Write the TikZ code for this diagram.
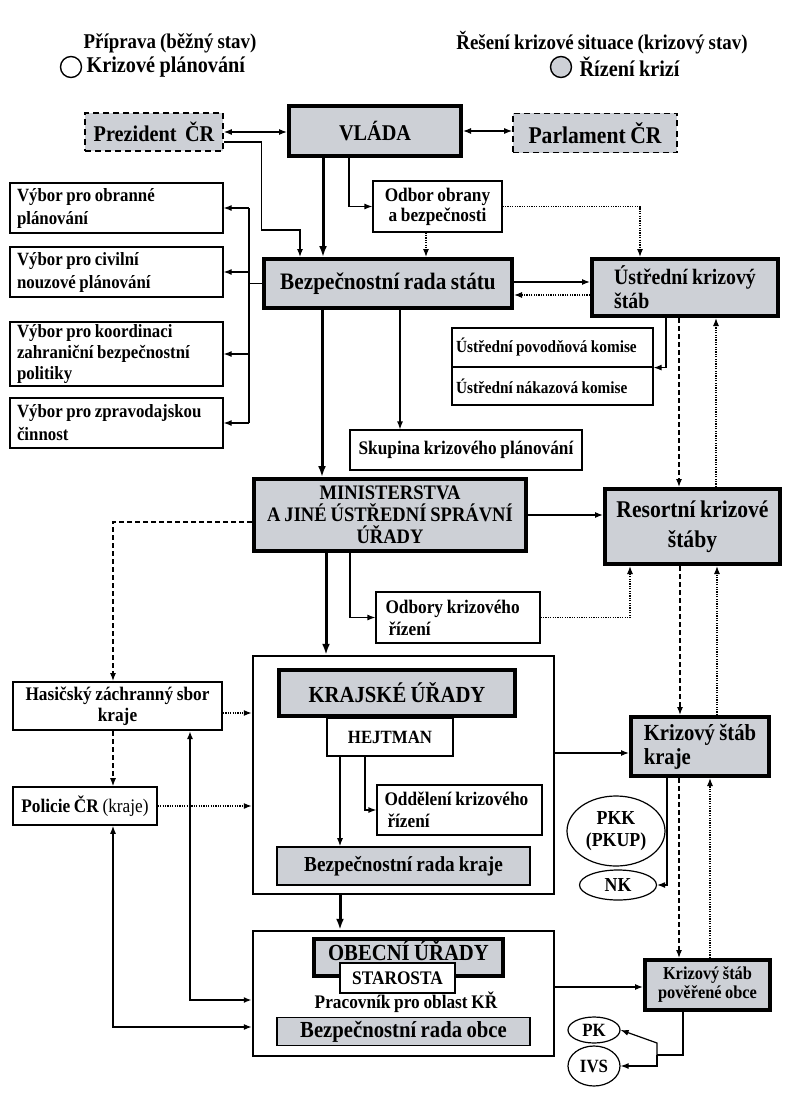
\documentclass[tikz,border=0pt]{standalone}
\usepackage{fontspec}
\setmainfont{Liberation Serif}[FakeStretch=0.9,WordSpace=0.85]
\usetikzlibrary{arrows.meta,shapes.geometric}
\definecolor{boxgray}{RGB}{205,208,214}
\newcommand{\fsz}[2]{\fontsize{#1}{#2}\selectfont\bfseries}

\begin{document}
\begin{tikzpicture}[x=1pt,y=-1pt,line width=1.2pt]
        \tikzset{box/.style = {shape=rectangle,draw,fill=white,inner sep=0pt,font=\fsz{19.8}{23}}}
        \tikzset{heavy/.style = {box,fill=boxgray,line width=4pt,font=\fsz{23}{25}}}
        \tikzset{dashbox/.style = {box,fill=boxgray,line width=1.6pt,dash pattern=on 6pt off 4pt,font=\fsz{22.5}{24}}}
        \tikzset{frame/.style = {shape=rectangle,draw,line width=2.5pt,inner sep=0pt}}
        \tikzset{bubble/.style = {shape=ellipse,draw,inner sep=0pt,font=\fsz{19.8}{22}}}
        \tikzset{legend/.style = {inner sep=0pt,font=\fsz{21}{23}}}
        \tikzset{edge/.style = {-{Latex[length=8pt,width=6pt]}}}
        \tikzset{mainedge/.style = {-{Latex[length=11pt,width=8pt]},line width=3pt}}
        \tikzset{twoway/.style = {{Latex[length=8pt,width=6pt]}-{Latex[length=8pt,width=6pt]}}}
        \tikzset{dotline/.style = {dash pattern=on 1.2pt off 1.2pt}}
        \tikzset{dashline/.style = {dash pattern=on 5pt off 3pt}}
        \useasboundingbox (0,0) rectangle (784,1097);

        % legend
        \node[legend] (prep) at (170,43) {Příprava (běžný stav)};
        \node[shape=circle,draw,fill=white,line width=1.4pt,minimum size=21pt] (legplan) at (71,67) {};
        \node[legend,anchor=west,font=\fsz{22.5}{24}] (plan) at (86,67) {Krizové plánování};
        \node[legend] (crisis) at (602,43) {Řešení krizové situace (krizový stav)};
        \node[shape=circle,draw,fill=boxgray,line width=1.4pt,minimum size=21pt] (legcris) at (561,67) {};
        \node[legend,anchor=west,font=\fsz{22.5}{24}] (rizeni) at (579,67) {Řízení krizí};

        % state level
        \node[dashbox,minimum width=138pt,minimum height=38pt] (prez) at (154,132) {Prezident\ \ ČR};
        \node[heavy,minimum width=172pt,minimum height=50pt,font=\fsz{22.5}{24}] (vlada) at (375,131) {VLÁDA};
        \node[dashbox,minimum width=164pt,minimum height=39pt,font=\fsz{24}{26}] (parl) at (595,133) {Parlament ČR};
        \node[box,minimum width=213pt,minimum height=50pt,text width=199pt,inner xsep=7pt,align=flush left,font=\fsz{18.7}{23}] (obranne) at (116.5,208) {Výbor pro obranné\\plánování};
        \node[box,minimum width=213pt,minimum height=50pt,text width=199pt,inner xsep=7pt,align=flush left,font=\fsz{18.7}{23}] (civilni) at (116.5,272) {Výbor pro civilní\\nouzové plánování};
        \node[box,minimum width=213pt,minimum height=64pt,text width=199pt,inner xsep=7pt,align=flush left,font=\fsz{18.7}{21}] (koord) at (116.5,354) {Výbor pro koordinaci\\zahraniční bezpečnostní\\politiky};
        \node[box,minimum width=213pt,minimum height=50pt,text width=199pt,inner xsep=7pt,align=flush left,font=\fsz{18.7}{23}] (zprav) at (116.5,423) {Výbor pro zpravodajskou\\činnost};
        \node[box,minimum width=129pt,minimum height=51pt,align=center,font=\fsz{19.2}{20}] (odbor) at (437.5,206.5) {Odbor obrany\\a bezpečnosti};
        \node[heavy,minimum width=248pt,minimum height=49pt,font=\fsz{23.6}{25}] (brs) at (388,283.5) {Bezpečnostní rada státu};
        \node[heavy,minimum width=186pt,minimum height=57pt,align=left,font=\fsz{22}{24}] (uks) at (685,287.5) {Ústřední krizový\\štáb};
        \node[box,minimum width=201pt,minimum height=39pt,text width=193pt,inner xsep=4pt,align=flush left,font=\fsz{17}{19}] (povod) at (552.5,347.5) {Ústřední povodňová komise};
        \node[box,minimum width=201pt,minimum height=38pt,text width=193pt,inner xsep=4pt,align=flush left,font=\fsz{17}{19}] (nakaz) at (552.5,386) {Ústřední nákazová komise};
        \node[box,minimum width=232pt,minimum height=40pt,font=\fsz{19.2}{21}] (skup) at (466,450) {Skupina krizového plánování};

        % ministries
        \node[heavy,minimum width=272pt,minimum height=72pt,align=center,font=\fsz{20.6}{22}] (min) at (390,515) {MINISTERSTVA\\A JINÉ ÚSTŘEDNÍ SPRÁVNÍ\\ÚŘADY};
        \node[heavy,minimum width=175pt,minimum height=75pt,align=center,font=\fsz{24}{30}] (rks) at (692.5,526.5) {Resortní krizové\\štáby};
        \node[box,minimum width=164pt,minimum height=51pt,text width=145pt,inner xsep=9.5pt,align=flush left,font=\fsz{19.2}{22}] (odbory) at (458,617.5) {Odbory krizového\\\hspace*{3pt}řízení};

        % regions
        \node[frame,minimum width=301pt,minimum height=238pt] (krajfr) at (403.5,775) {};
        \node[heavy,minimum width=236pt,minimum height=46pt,font=\fsz{23}{25}] (kru) at (397,693) {KRAJSKÉ ÚŘADY};
        \node[box,minimum width=126pt,minimum height=38pt,font=\fsz{18.7}{21}] (hejt) at (390,737) {HEJTMAN};
        \node[box,minimum width=165pt,minimum height=50pt,text width=150pt,inner xsep=7.5pt,align=flush left,font=\fsz{19.2}{22}] (odde) at (459.5,810) {Oddělení krizového\\\hspace*{3pt}řízení};
        \node[box,fill=boxgray,line width=1.6pt,minimum width=253pt,minimum height=38pt,font=\fsz{21.4}{23}] (brk) at (403.5,866) {Bezpečnostní rada kraje};
        \node[box,line width=2pt,minimum width=209pt,minimum height=48pt,align=center,font=\fsz{19.2}{21}] (hzs) at (117.5,706) {Hasičský záchranný sbor\\kraje};
        \node[box,line width=1.6pt,minimum width=144pt,minimum height=38pt,font=\fsz{19.2}{21}] (pol) at (85,806) {Policie ČR {\mdseries (kraje)}};
        \node[heavy,minimum width=138pt,minimum height=59pt,align=left,font=\fsz{23}{24}] (ksk) at (700,746.5) {Krizový štáb\\kraje};
        \node[bubble,minimum width=98pt,minimum height=70pt,align=center] (pkk) at (616,831) {PKK\\(PKUP)};
        \node[bubble,minimum width=77pt,minimum height=30pt] (nk) at (618,885) {NK};

        % municipalities
        \node[frame,minimum width=301pt,minimum height=125pt] (obfr) at (403.5,993.5) {};
        \node[heavy,minimum width=189pt,minimum height=37pt,text height=15pt,text depth=9pt,font=\fsz{23}{25}] (obu) at (408.5,957) {OBECNÍ ÚŘADY};
        \node[box,minimum width=115pt,minimum height=30pt,font=\fsz{19.2}{21}] (star) at (397.5,978) {STAROSTA};
        \node[inner sep=0pt,font=\fsz{19.2}{21}] (prac) at (406,1002) {Pracovník pro oblast KŘ};
        \node[box,fill=boxgray,line width=1.6pt,minimum width=253pt,minimum height=28pt,font=\fsz{23}{24}] (bro) at (403.5,1031.5) {Bezpečnostní rada obce};
        \node[heavy,minimum width=125pt,minimum height=50pt,align=center,font=\fsz{18.2}{19}] (ksp) at (707.5,985) {Krizový štáb\\pověřené obce};
        \node[bubble,minimum width=52pt,minimum height=26pt,font=\fsz{18.7}{20}] (pk) at (594,1030) {PK};
        \node[bubble,minimum width=52pt,minimum height=40pt,font=\fsz{18.7}{20}] (ivs) at (594,1066) {IVS};

        % connectors, state level
        \draw[twoway] (prez.east) -- (prez.east -| vlada.west);
        \draw[twoway] (vlada.east) -- (vlada.east -| parl.west);
        \draw[edge] ([yshift=-10pt]prez.east) -- ++(38,0) -- ++(0,88) -| ([xshift=38pt]brs.north west);
        \draw[mainedge] ([xshift=-52pt]vlada.south) -- ([xshift=-52pt]vlada.south |- brs.north);
        \draw[edge] ([xshift=-26pt]vlada.south) |- (odbor.west);
        \draw[edge,dotline] ([xshift=-11.5pt]odbor.south) -- ([xshift=-11.5pt]odbor.south |- brs.north);
        \draw[edge,dotline] (odbor.east) -| ([xshift=-45pt]uks.north);
        \draw[edge] ([yshift=1.5pt]brs.east) -- ([yshift=1.5pt]brs.east -| uks.west);
        \draw[edge,dotline] ([yshift=-7.5pt]uks.west) -- ([yshift=-7.5pt]uks.west -| brs.east);
        \coordinate (bus) at ([xshift=-13pt]brs.west);
        \draw (brs.west) -- (bus);
        \draw (bus |- obranne.east) -- (bus |- zprav.east);
        \foreach \v in {obranne,civilni,koord,zprav}
            \draw[edge] (bus |- \v.east) -- (\v.east);
        \draw[mainedge] ([xshift=-66pt]brs.south) -- ([xshift=-66pt]brs.south |- min.north);
        \draw[edge] ([xshift=12pt]brs.south) -- ([xshift=12pt]brs.south |- skup.north);
        \draw[edge] ([xshift=-19pt]uks.south) |- (povod.south east);
        \draw[edge,dashline] ([xshift=-6pt]uks.south) -- ([xshift=-6pt]uks.south |- rks.north);
        \draw[edge,dotline] ([xshift=31pt]uks.south |- rks.north) -- ([xshift=31pt]uks.south);

        % connectors, ministries and regions
        \draw[edge] (min.east) -- (min.east -| rks.west);
        \draw[edge,dashline] ([yshift=-7pt]min.west) -| ([xshift=-4.5pt]hzs.north);
        \draw[mainedge] ([xshift=-64pt]min.south) -- ([xshift=-64pt]min.south |- krajfr.north);
        \draw[edge] ([xshift=-40pt]min.south) |- (odbory.west);
        \draw[edge,dotline] (odbory.east) -| ([xshift=-62.5pt]rks.south);
        \draw[edge,dashline] ([xshift=-20pt]ksk.north |- rks.south) -- ([xshift=-20pt]ksk.north);
        \draw[edge,dotline] ([xshift=17pt]ksk.north) -- ([xshift=17pt]ksk.north |- rks.south);
        \draw[edge] ([yshift=22pt]krajfr.east) -- ([yshift=22pt]krajfr.east -| ksk.west);
        \draw[edge,dotline] ([yshift=-7pt]hzs.east) -- ([yshift=-7pt]hzs.east -| krajfr.west);
        \draw[edge,dashline] ([xshift=-4.5pt]hzs.south) -- ([xshift=-4.5pt]hzs.south |- pol.north);
        \draw[edge,dotline] (pol.east) -- (pol.east -| krajfr.west);
        \draw[twoway,line width=1.8pt] ([xshift=72.5pt]hzs.south) |- ([yshift=-6.5pt]obfr.west);
        \draw[twoway] ([xshift=28pt]pol.south) |- ([yshift=-33.5pt]obfr.west);
        \draw[edge] ([xshift=-50pt]hejt.south) -- ([xshift=-50pt]hejt.south |- brk.north);
        \draw[edge] ([xshift=-25pt]hejt.south) |- (odde.west);
        \draw[edge] ([xshift=-33pt]ksk.south) |- (nk.east);

        % connectors, municipalities
        \draw[mainedge] ([xshift=-63.5pt]krajfr.south) -- ([xshift=-63.5pt]krajfr.south |- obfr.north);
        \draw[edge,dashline] ([xshift=-21pt]ksk.south) -- ([xshift=-21pt]ksk.south |- ksp.north);
        \draw[edge,dotline] ([xshift=10pt]ksk.south |- ksp.north) -- ([xshift=10pt]ksk.south);
        \draw[edge] ([yshift=6.5pt]obfr.east) -- ([yshift=6.5pt]obfr.east -| ksp.west);
        \coordinate (fork) at ([xshift=-50.5pt,yshift=-43pt]ksp.south);
        \draw ([xshift=-24.5pt]ksp.south) |- (fork);
        \draw[edge] (fork) -- ++(0,-12) -- (pk.east);
        \draw[edge] (fork) |- (ivs.east);
\end{tikzpicture}
\end{document}
